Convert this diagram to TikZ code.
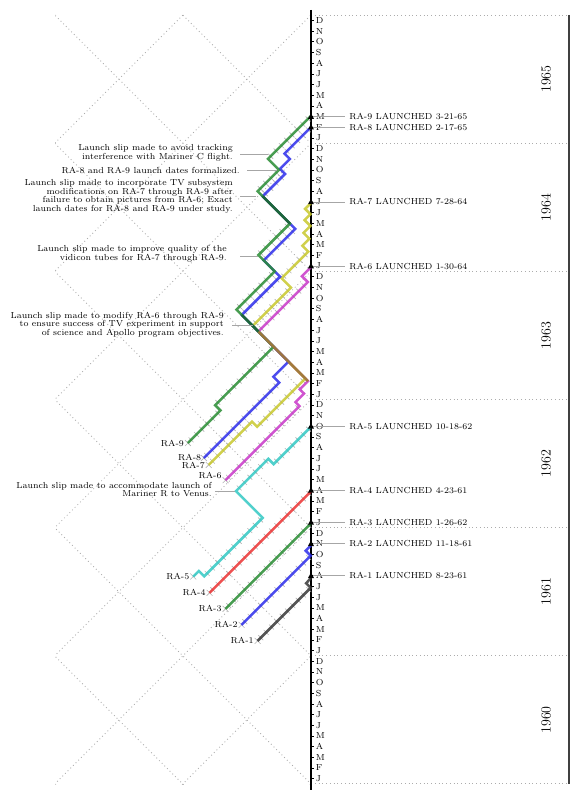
\documentclass[tikz,border=0pt]{standalone}
\usetikzlibrary{calc}
\definecolor{cBlack}{RGB}{55,55,55}
\definecolor{cBlue}{RGB}{45,45,235}
\definecolor{cGreen}{RGB}{40,140,50}
\definecolor{cRed}{RGB}{235,50,50}
\definecolor{cCyan}{RGB}{50,200,195}
\definecolor{cMag}{RGB}{200,55,200}
\definecolor{cYel}{RGB}{200,200,45}
\definecolor{cBrown}{RGB}{160,120,60}
\definecolor{cDkGreen}{RGB}{30,100,60}
\newcommand\tk[3]{\pgfmathtruncatemacro\tka{ceil(#1)}\pgfmathtruncatemacro\tkb{floor(#2)}%
  \foreach \i in {\tka,...,\tkb}{\draw[tickst] (\i,{#3-0.45}) -- (\i,{#3+0.45});}}
\newcommand\stx[2]{\draw[tickst] ({#1-0.55},#2) -- ({#1+0.55},#2) (#1,{#2-0.55}) -- (#1,{#2+0.55});}
\newcommand\launch[1]{\fill (311,{#1-3.2}) -- (308,{#1+2.3}) -- (314,{#1+2.3}) -- cycle;}
\begin{document}
\begin{tikzpicture}[x=0.8pt,y=-0.8pt,
  txt/.style={font=\fontsize{7}{7}\selectfont, inner sep=0pt},
  note/.style={txt, align=right, anchor=east},
  lead/.style={gray!70, line width=0.6pt},
  lat/.style={gray!65, line width=0.7pt, dash pattern=on 0.7pt off 2.3pt},
  ra/.style={line width=2pt, opacity=0.85, line join=miter},
  tickst/.style={gray!60, line width=0.5pt}]
\useasboundingbox (0,0) rectangle (578,800);
% lattice
\begin{scope}
\clip (55,15) rectangle (311,784);
\begin{scope}[shift={(311,784)}, x={(4.272pt,4.272pt)}, y={(-4.272pt,4.272pt)}]
\foreach \k in {0,...,8} \draw[lat] (-30,12*\k) -- (90,12*\k);
\foreach \k in {-3,...,7} \draw[lat] (12*\k,-10) -- (12*\k,110);
\end{scope}
\end{scope}
% year separators and frame
\foreach \k in {0,...,6} \draw[lat] (311,{15+128*\k}) -- (568,{15+128*\k});
\draw[black!75, line width=1.6pt] (569,15) -- (569,784);
\draw[black, line width=1pt] (311,10) -- (311,790);
\foreach \yr/\lab in {0/1960,1/1961,2/1962,3/1963,4/1964,5/1965}{
  \node[rotate=90, font=\fontsize{11.2}{13}\selectfont, inner sep=0pt] (yr\lab) at (546,{784-10.68*(12*\yr+6)}) {\lab};
  \foreach \L [count=\m from 0] in {J,F,M,A,M,J,J,A,S,O,N,D}{
    \draw[line width=0.4pt] (311,{784-10.68*(12*\yr+\m+0.5)}) -- (314,{784-10.68*(12*\yr+\m+0.5)});
    \node[txt, anchor=west] at (315.5,{784-10.68*(12*\yr+\m+0.5)}) {\L};
  }
}
% slip lines in (u,v) coordinates: u = report date, v = scheduled date (months from Jan 1960)
\begin{scope}[shift={(311,784)}, x={(4.272pt,4.272pt)}, y={(-4.272pt,4.272pt)}]
% ticks
\tk{8.4}{18.35}{18.4}
\tk{8.4}{21.35}{21.4}
\tk{8.4}{24.4}{24.4}
\tk{8.4}{27.4}{27.4}
\tk{9.45}{20.4}{29.45}\tk{20.4}{26.45}{34.45}\tk{26.45}{33.45}{33.45}
\tk{20.45}{34.3}{36.45}\tk{37.45}{46.7}{47.3}
\tk{20.3}{28.4}{39.45}\tk{28.4}{37.45}{38.5}\tk{37.45}{44.6}{48.35}\tk{44.6}{49.6}{50.1}
\tk{20.5}{34.6}{40.55}\tk{37.45}{44.6}{50.4}\tk{44.6}{50.5}{53.45}\tk{50.5}{54.7}{59.55}\tk{56.55}{61.5}{61.5}
\tk{20.4}{26.5}{43.45}\tk{26.5}{37.45}{44.45}\tk{37.45}{44.6}{51.4}\tk{44.6}{50.5}{54.45}\tk{50.5}{54.5}{60.5}\tk{54.5}{62.5}{62.55}
\stx{8.4}{18.4}\stx{8.4}{21.4}\stx{8.4}{24.4}\stx{8.4}{27.4}\stx{8.4}{30.45}
\stx{20.45}{36.45}\stx{20.3}{39.45}\stx{20.5}{40.55}\stx{20.4}{43.45}
% RA-1
\draw[ra, cBlack] (8.4,18.4) -- (18.35,18.4) -- (18.35,19.25) -- (19.3,19.3);
% RA-2
\draw[ra, cBlue] (8.4,21.4) -- (21.35,21.4) -- (21.35,22.35) -- (22.35,22.35);
% RA-3
\draw[ra, cGreen] (8.4,24.4) -- (24.4,24.4);
% RA-4
\draw[ra, cRed] (8.4,27.4) -- (27.4,27.4);
% RA-5
\draw[ra, cCyan] (8.4,30.45) -- (9.45,30.45) -- (9.45,29.45) -- (20.4,29.45) -- (20.4,34.45) -- (26.45,34.45) -- (26.45,33.45) -- (33.45,33.45);
% RA-6
\draw[ra, cMag] (20.45,36.45) -- (34.3,36.45) -- (34.3,37.2) -- (35.9,37.2) -- (35.9,38.0) -- (37.45,38.0) -- (37.45,47.3) -- (46.7,47.3) -- (46.7,48.4) -- (48.4,48.4);
% RA-7
\draw[ra, cYel] (20.3,39.45) -- (28.4,39.45) -- (28.4,38.5) -- (37.45,38.5) -- (37.45,48.35) -- (44.6,48.35) -- (44.6,50.1) -- (49.6,50.1) -- (49.6,51.2) -- (50.9,51.2) -- (50.9,52.3) -- (52.2,52.3) -- (52.2,53.4) -- (53.3,53.4) -- (53.3,54.4) -- (54.4,54.4);
% RA-8
\draw[ra, cBlue] (20.5,40.55) -- (34.6,40.55) -- (34.6,41.65) -- (37.45,41.65) -- (37.45,50.4) -- (44.6,50.4) -- (44.6,53.45) -- (50.5,53.45) -- (50.5,59.55) -- (54.7,59.55) -- (54.7,60.5) -- (56.55,60.5) -- (56.55,61.5) -- (61.5,61.5);
% RA-9
\draw[ra, cGreen] (20.4,43.45) -- (26.5,43.45) -- (26.5,44.45) -- (37.45,44.45) -- (37.45,51.4) -- (44.6,51.4) -- (44.6,54.45) -- (50.5,54.45) -- (50.5,60.5) -- (54.5,60.5) -- (54.5,62.55) -- (62.55,62.55);
% shared slip segments (overlapping lines)
\draw[ra, cBrown, opacity=0.95] (37.45,38.0) -- (37.45,47.3);
\draw[ra, cDkGreen, opacity=0.95] (37.45,47.3) -- (37.45,50.4);
\draw[ra, cDkGreen, opacity=0.95] (50.5,54.45) -- (50.5,59.55);
% labels
\node[txt, left=3pt] (l1) at (8.4,18.4) {RA-1};
\node[txt, left=3pt] (l2) at (8.4,21.4) {RA-2};
\node[txt, left=3pt] (l3) at (8.4,24.4) {RA-3};
\node[txt, left=3pt] (l4) at (8.4,27.4) {RA-4};
\node[txt, left=3pt] (l5) at (8.4,30.45) {RA-5};
\node[txt, left=3pt, yshift=3.5pt] (l6) at (20.45,36.45) {RA-6};
\node[txt, left=3pt, yshift=-0.8pt] (l7) at (20.3,39.45) {RA-7};
\node[txt, left=2pt, yshift=0.6pt] (l8) at (20.5,40.55) {RA-8};
\node[txt, left=3pt] (l9) at (20.4,43.45) {RA-9};
\end{scope}
% launches
\foreach \c/\t in {19.5/RA-1 LAUNCHED 8-23-61, 22.5/RA-2 LAUNCHED 11-18-61, 24.5/RA-3 LAUNCHED 1-26-62, 27.5/RA-4 LAUNCHED 4-23-61, 33.5/RA-5 LAUNCHED 10-18-62, 48.5/RA-6 LAUNCHED 1-30-64, 54.5/RA-7 LAUNCHED 7-28-64, 61.5/RA-8 LAUNCHED 2-17-65, 62.5/RA-9 LAUNCHED 3-21-65}{
  \pgfmathsetmacro\Y{784-10.68*\c}
  \draw[lead] (313,\Y) -- (345,\Y);
  \node[txt, anchor=west] at (349,\Y) {\t};
  \launch{\Y}
}
% notes
\node[note] (n1) at (233,152.8) {Launch slip made to avoid tracking\\interference with Mariner C flight.};
\draw[lead] (240,154) -- (268,154);
\node[note] (n2) at (240,170) {RA-8 and RA-9 launch dates formalized.};
\draw[lead] (247,170) -- (277,170);
\node[note] (n3) at (233,196.3) {Launch slip made to incorporate TV subsystem\\modifications on RA-7 through RA-9 after\\failure to obtain pictures from RA-6; Exact\\launch dates for RA-8 and RA-9 under study.};
\draw[lead] (240,196.7) -- (256,196.7);
\node[note] (n4) at (227,254) {Launch slip made to improve quality of the\\vidicon tubes for RA-7 through RA-9.};
\draw[lead] (240,256) -- (258,256);
\node[note] (n5) at (224,324.7) {Launch slip made to modify RA-6 through RA-9\\to ensure success of TV experiment in support\\of science and Apollo program objectives.};
\draw[lead] (232,325) -- (253,325);
\node[note] (n6) at (212,489.5) {Launch slip made to accommodate launch of\\Mariner R to Venus.};
\draw[lead] (215,491) -- (235,491);
\end{tikzpicture}
\end{document}
